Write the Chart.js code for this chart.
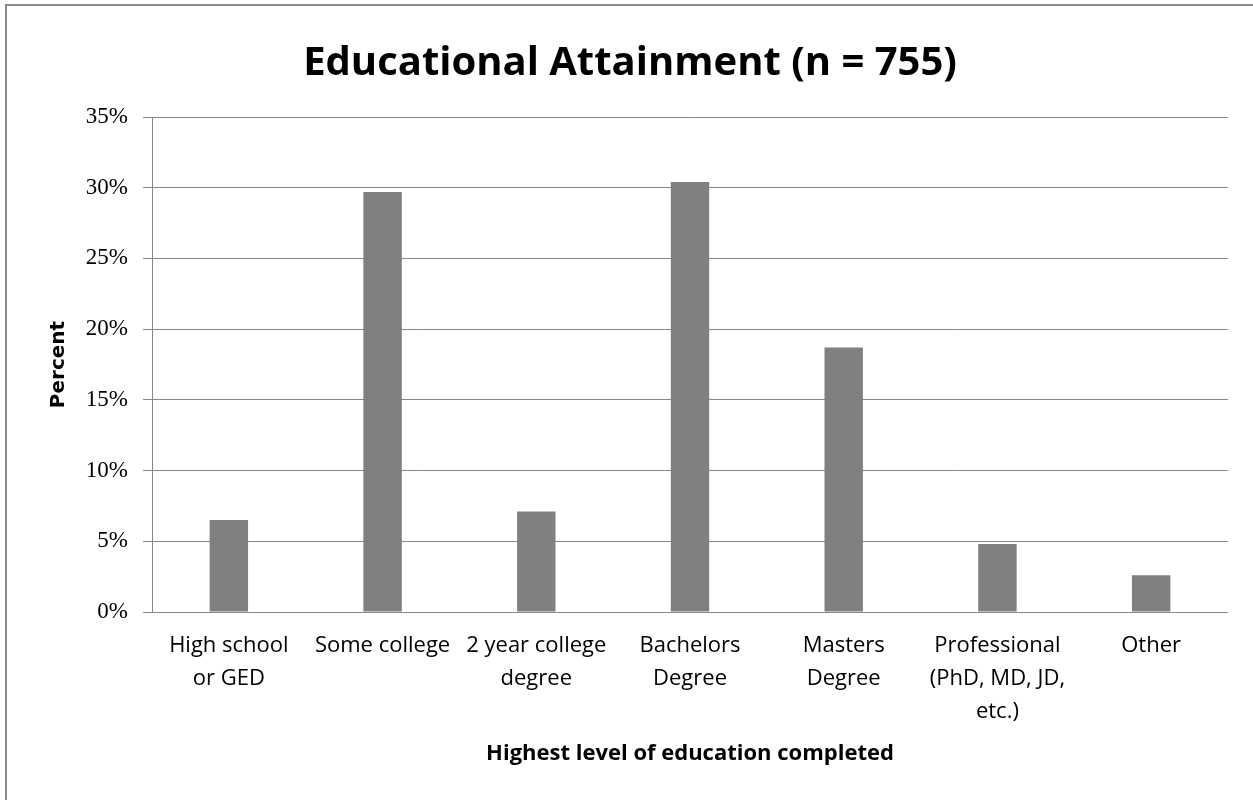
<!DOCTYPE html>
<html>
<head>
<meta charset="utf-8">
<script src="https://cdn.jsdelivr.net/npm/chart.js@4"></script>
<style>
  body { margin: 0; background: #fff; }
  #wrap { position: relative; width: 1253px; height: 800px; }
  #frame {
    position: absolute; left: 5px; top: 4px; right: -10px; bottom: -10px;
    border-left: 2px solid #8a8a8a; border-top: 2px solid #8a8a8a;
    pointer-events: none;
  }
</style>
</head>
<body>
<div id="wrap">
  <canvas id="eduChart"></canvas>
  <div id="frame"></div>
</div>
<script>
// Kategori pendidikan (label multi baris)
const categories = [
  ["High school", "or GED"],
  ["Some college"],
  ["2 year college", "degree"],
  ["Bachelors", "Degree"],
  ["Masters", "Degree"],
  ["Professional", "(PhD, MD, JD,", "etc.)"],
  ["Other"]
];
// Persentase responden (n = 755)
const percentValues = [6.5, 29.7, 7.1, 30.4, 18.7, 4.8, 2.6];
const yTicks = [0, 5, 10, 15, 20, 25, 30, 35];

const ctx = document.getElementById("eduChart").getContext("2d");

const config = {
  type: "bar",
  data: {
    labels: categories,
    datasets: [
      {
        label: "Percent",
        data: percentValues,
        backgroundColor: "#808080",
        borderWidth: 0,
        categoryPercentage: 1.0,
        barPercentage: 0.25,
      },
    ],
  },
  options: {
    responsive: true,
    maintainAspectRatio: false,
    animation: false,
    layout: {
      padding: { left: 7, right: 0, top: 0, bottom: 0 },
    },
    scales: {
      y: {
        min: yTicks[0],
        max: yTicks[yTicks.length - 1],
        afterFit: function(scale) {
          scale.width = 145;
        },
        afterBuildTicks: function(scale) {
          scale.ticks = yTicks.map((v) => ({ value: v }));
        },
        ticks: {
          color: "#000",
          padding: 15,
          font: { family: "Liberation Serif", size: 23 },
          callback: function(value) {
            return value + "%";
          },
        },
        grid: {
          color: "#878787",
          lineWidth: 1,
          drawTicks: true,
          tickLength: 9,
        },
        border: { color: "#878787", width: 1 },
        title: {
          display: true,
          text: "Percent",
          color: "#000",
          font: { family: "DejaVu Sans", size: 20, weight: "bold" },
          padding: { top: 40, bottom: 0 },
        },
      },
      // ruang kosong di kanan area plot
      yRight: {
        position: "right",
        min: 0,
        max: 35,
        afterFit: function(scale) {
          scale.width = 25;
        },
        ticks: { display: false },
        grid: { display: false, drawTicks: false },
        border: { display: false },
      },
      x: {
        afterFit: function(scale) {
          scale.height = 188;
        },
        ticks: {
          color: "#000",
          padding: 17,
          maxRotation: 0,
          autoSkip: false,
          font: { family: "Open Sans", size: 22, lineHeight: 1.5 },
        },
        grid: { display: false, drawTicks: false },
        border: { display: false },
        title: {
          display: true,
          text: "Highest level of education completed",
          color: "#000",
          font: { family: "Open Sans", size: 22, weight: "bold", lineHeight: 1.2 },
          padding: { top: 0, bottom: 33 },
        },
      },
    },
    plugins: {
      title: {
        display: true,
        text: "Educational Attainment (n = 755)",
        color: "#000",
        font: { family: "Open Sans", size: 40, weight: "bold", lineHeight: 1.2 },
        padding: { top: 40, bottom: 29 },
      },
      legend: { display: false },
      tooltip: { enabled: false },
    },
  },
};

const eduChart = new Chart(ctx, config);
</script>
</body>
</html>
